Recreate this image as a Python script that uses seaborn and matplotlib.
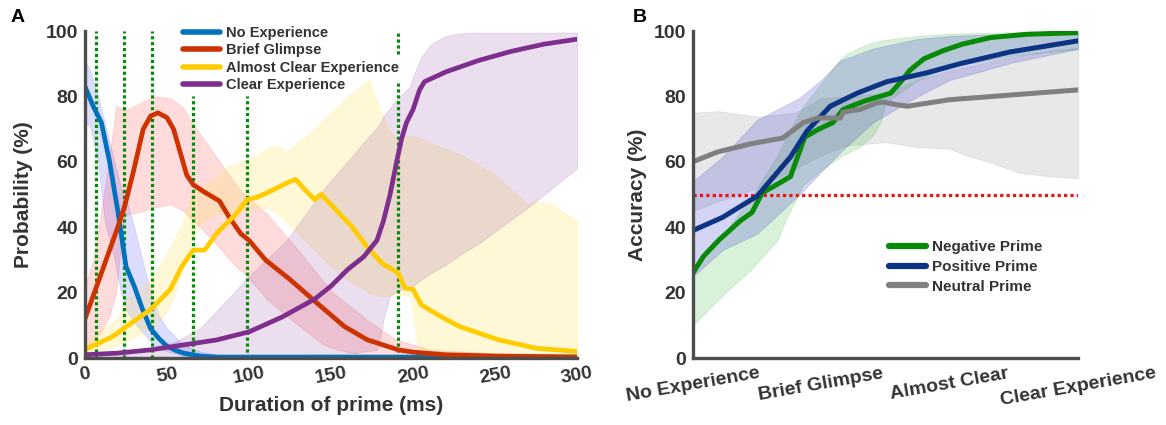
import matplotlib
matplotlib.use("Agg")
import numpy as np
import pandas as pd
import seaborn as sns
from matplotlib import pyplot as plt

# ---- panel A: probability of each experience rating vs prime duration ----
no_exp_t = [0, 5, 10, 15, 20, 25, 30, 35, 40, 45, 50, 55, 60, 70, 80, 120, 200, 300]
no_exp = [83, 77, 72, 60, 45, 28, 22, 15, 9, 6, 3.6, 2.4, 1.5, 0.6, 0.3, 0.3, 0.3, 0.3]
no_exp_band_t = [0, 3, 8, 12, 18, 22, 26, 30, 35, 40, 45, 50, 60, 70, 80, 100, 300]
no_exp_hi = [91, 88, 80, 72, 60, 52, 47, 40, 30, 20, 13, 9, 4, 2, 1, 0.5, 0.5]
no_exp_lo = [72, 71, 60, 42, 30, 20, 14, 11, 8, 5, 3, 2, 0.7, 0.2, 0, 0, 0]

glimpse_t = [0, 5, 10, 15, 20, 24.5, 29.5, 35.5, 40, 44.5, 50, 54, 58, 62, 66, 72, 82, 88,
             95, 100, 110, 125, 141, 158, 172, 191, 200, 220, 250, 300]
glimpse = [12, 19, 26, 33, 40, 47, 57, 70, 74, 75, 73.5, 70, 63, 56, 53, 51, 48, 43,
           38, 36, 30, 24, 17, 9.7, 5.6, 2.5, 1.8, 1, 0.6, 0.3]
glimpse_band_t = [0, 5, 10, 15, 19, 22, 24, 26, 32, 42, 52, 60, 64, 68, 78, 92, 97, 111,
                  130, 146, 151, 170, 172, 190, 212, 250, 300]
glimpse_hi = [22, 30, 45, 62, 77, 76.5, 76, 76, 77.5, 80, 79.5, 76.5, 73, 70, 63, 53, 50, 44,
              33, 23, 20, 12.5, 11.6, 5.5, 2.4, 1.5, 1]
glimpse_lo = [3, 5, 8, 13, 20, 35, 43, 44, 44.5, 46, 47, 45, 43, 41, 36, 28, 26, 18,
              10, 4, 3, 0.6, 0.5, 0.3, 0.2, 0, 0]

almost_t = [0, 17, 31, 40, 52, 59, 66, 73, 80, 92, 99, 104, 111, 125, 128.5, 134, 140, 144,
            151, 162.5, 172, 181, 191, 195, 200, 205, 216.5, 228, 252, 275, 300]
almost = [2.6, 6.6, 11.7, 14.8, 21, 28, 33, 33, 38, 44, 48.5, 49, 50.5, 54, 54.6, 51.5, 48.5, 50,
          46.4, 40.3, 34, 29, 26, 21.4, 21, 16.3, 12.8, 9.7, 5.6, 3, 2]
almost_band_t = [0, 20, 25, 40, 50, 55, 60, 65, 70, 80, 87, 95, 105, 112, 118, 122, 130, 140,
                 150, 160, 173, 180, 185, 190, 197, 199, 203, 210, 220, 230, 250, 270, 275,
                 285, 300]
almost_hi = [5, 12, 18, 24, 32, 37, 42, 50, 52, 55, 58.7, 60, 62, 64.5, 65, 63, 66, 70,
             75, 80, 85, 76, 70, 67, 68, 67.8, 67.5, 66, 64, 62, 56, 47, 48,
             47, 42]
almost_lo = [1, 4, 5, 9, 14, 20, 28, 36, 41, 44, 44.4, 45, 45.5, 46, 44, 42, 38, 33,
             28, 24, 20, 19, 19, 19.5, 19, 18, 2, 1.5, 1, 0.8, 0.7, 0.6, 0.6,
             0.5, 0.5]

clear_t = [0, 20, 40, 60, 80, 100, 120, 140, 150, 160, 170, 178, 182, 186, 190, 193, 196,
           200, 204, 207, 220, 240, 260, 280, 300]
clear = [1, 1.5, 2.5, 4, 5.5, 8, 12.5, 18, 22, 27, 31, 36, 42, 50, 60, 67, 72,
         76, 82, 84.5, 87.5, 91, 93.8, 96, 97.5]
clear_band_t = [0, 40, 55, 70, 87, 100, 123, 146, 165, 170, 178, 180, 182, 186, 190, 198,
                200, 205, 211, 220, 230, 240, 270, 300]
clear_hi = [1.5, 3, 5, 9, 18, 25, 36, 52, 63, 66, 70.5, 72, 74, 76.5, 79, 83,
            86, 92, 96, 98.5, 99.3, 99.5, 99.5, 99.5]
clear_lo = [0.3, 0.5, 0.6, 0.7, 0.8, 0.8, 0.9, 1, 1.5, 2, 2.5, 6, 12, 19, 20.5, 21.5,
            22, 24, 26, 28.5, 32, 35, 46, 58]

# green dotted markers: (x, from, to)
marker_lines = [(7, 0, 100), (24, 0, 100), (41, 0, 100), (66, 0, 80), (99, 0, 80),
                (191, 0, 84), (191, 93, 100)]

# ---- panel B: accuracy vs reported experience ----
categories = ["No Experience", "Brief Glimpse", "Almost Clear", "Clear Experience"]

neg_x = [0, 0.08, 0.2, 0.37, 0.46, 0.54, 0.63, 0.76, 0.87, 0.98, 1.09, 1.17, 1.33, 1.54,
         1.62, 1.69, 1.8, 1.95, 2.1, 2.32, 2.6, 3]
neg = [26, 31, 36, 42, 44.5, 50.5, 52.5, 55.5, 67.5, 70, 72, 76, 78.5, 81,
       84.5, 88, 91.5, 94, 96, 98, 99, 99.5]
neg_band_x = [0, 0.2, 0.45, 0.66, 0.72, 0.86, 1.0, 1.15, 1.2, 1.3, 1.4, 1.46, 1.5, 1.75,
              2.0, 2.5, 3]
neg_hi = [27, 36, 49, 62, 67, 77, 84, 91.5, 93, 95, 96.5, 97, 97.3, 98.5,
          99.2, 99.6, 99.8]
neg_lo = [10, 18, 27, 36, 42, 53, 57.5, 61.5, 62.7, 64.5, 68, 72, 78, 85,
          89, 92.5, 94.5]

pos_x = [0, 0.23, 0.5, 0.76, 0.89, 1.07, 1.28, 1.51, 1.82, 2.08, 2.47, 3]
pos = [39, 43, 49.5, 61.5, 69.5, 77, 81, 84.5, 87.2, 90, 93.6, 97]
pos_band_x = [0, 0.23, 0.5, 0.83, 1.0, 1.15, 1.4, 1.75, 2.0, 2.5, 3]
pos_hi = [54, 61.5, 72.8, 79.5, 85, 91, 94.6, 97.6, 98.5, 99.2, 99.5]
pos_lo = [25, 33, 38, 50, 57, 63, 72, 80, 85, 90.5, 94.5]

neu_x = [0, 0.03, 0.19, 0.45, 0.7, 0.86, 0.97, 1.15, 1.17, 1.3, 1.43, 1.48, 1.58, 1.67,
         2.0, 2.5, 3]
neu = [60, 60.5, 63, 65.5, 67.3, 72, 73.4, 73.4, 75.2, 76, 78, 78.3, 77.5, 77,
       79, 80.5, 82]
neu_band_x = [0, 0.2, 0.5, 0.8, 1.0, 1.2, 1.5, 1.75, 2.0, 2.13, 2.3, 2.55, 2.8, 3]
neu_hi = [75, 75.5, 73.8, 75, 79.5, 80, 81, 85, 88, 89, 90.5, 92.5, 94, 95]
neu_lo = [45, 48, 52, 58, 62, 65, 66, 64.5, 64, 62, 60, 56.6, 55.5, 55]

chance = 50

TXT = "#333333"
SPINE = "#4d4d4d"

sns.set_style("white")
plt.rcParams["font.family"] = ["Liberation Sans", "DejaVu Sans"]
plt.rcParams["font.weight"] = "bold"

fig = plt.figure(figsize=(11.66, 4.25), dpi=100)
ax_a = fig.add_axes([0.0729, 0.1576, 0.422, 0.7694])
ax_b = fig.add_axes([0.5943, 0.1576, 0.3302, 0.7694])


def style_axes(ax):
    for side in ["top", "right"]:
        ax.spines[side].set_visible(False)
    for side in ["left", "bottom"]:
        ax.spines[side].set_linewidth(2.4)
        ax.spines[side].set_color(SPINE)
        ax.spines[side].set_zorder(6)
    ax.tick_params(direction="in", length=6, width=2.4, color="#222222",
                   labelsize=14, labelcolor=TXT, pad=5)
    for lab in ax.get_yticklabels() + ax.get_xticklabels():
        lab.set_fontweight("bold")


# panel A
bands_a = [
    (no_exp_band_t, no_exp_lo, no_exp_hi, "#3b3bff", 0.17),
    (glimpse_band_t, glimpse_lo, glimpse_hi, "#ff2a2a", 0.17),
    (almost_band_t, almost_lo, almost_hi, "#ffe14a", 0.22),
    (clear_band_t, clear_lo, clear_hi, "#8a3d9c", 0.17),
]
for t, lo, hi, c, a in bands_a:
    ax_a.fill_between(t, lo, hi, color=c, alpha=a, linewidth=0.6)

for x, y0, y1 in marker_lines:
    ax_a.vlines(x, y0, y1, colors="#078a07", linestyles=(0, (1, 0.85)), linewidth=2.3, zorder=3)

lines_a = [
    (no_exp_t, no_exp, "#0072BD", "No Experience"),
    (glimpse_t, glimpse, "#CC3300", "Brief Glimpse"),
    (almost_t, almost, "#FFCC00", "Almost Clear Experience"),
    (clear_t, clear, "#7E2F8E", "Clear Experience"),
]
for t, y, c, name in lines_a:
    sns.lineplot(x=t, y=y, color=c, linewidth=3.4, label=name, ax=ax_a, zorder=4)

ax_a.set_xlim(0, 300)
ax_a.set_ylim(0, 100)
ax_a.set_xticks([0, 50, 100, 150, 200, 250, 300])
ax_a.set_yticks([0, 20, 40, 60, 80, 100])
style_axes(ax_a)
for lab in ax_a.get_xticklabels():
    lab.set_rotation(10)
ax_a.set_xlabel("Duration of prime (ms)", fontsize=15, fontweight="bold", color=TXT, labelpad=6)
ax_a.set_ylabel("Probability (%)", fontsize=15, fontweight="bold", color=TXT, labelpad=9)
leg = ax_a.legend(loc="upper left", bbox_to_anchor=(0.2, 1.015), frameon=False,
                  fontsize=10.5, handlelength=2.5, handletextpad=0.4, labelspacing=0.23,
                  borderpad=0, borderaxespad=0)
for txt in leg.get_texts():
    txt.set_color(TXT)
    txt.set_fontweight("bold")
for h in leg.get_lines():
    h.set_linewidth(4)

# panel B
bands_b = [
    (neu_band_x, neu_lo, neu_hi, "#9a9a9a", 0.22),
    (neg_band_x, neg_lo, neg_hi, "#30b030", 0.18),
    (pos_band_x, pos_lo, pos_hi, "#2a2ad0", 0.2),
]
for x, lo, hi, c, a in bands_b:
    ax_b.fill_between(x, lo, hi, color=c, alpha=a, linewidth=0.6)

ax_b.axhline(chance, color="#ee1111", linestyle=(0, (1, 1)), linewidth=2.3, zorder=3)

lines_b = [
    (neg_x, neg, "#078a07", "Negative Prime"),
    (pos_x, pos, "#0d3385", "Positive Prime"),
    (neu_x, neu, "#808080", "Neutral Prime"),
]
for x, y, c, name in lines_b:
    sns.lineplot(x=x, y=y, color=c, linewidth=3.6, label=name, ax=ax_b, zorder=4)

ax_b.set_xlim(0, 3)
ax_b.set_ylim(0, 100)
ax_b.set_xticks(range(len(categories)))
ax_b.set_xticklabels(categories)
ax_b.set_yticks([0, 20, 40, 60, 80, 100])
style_axes(ax_b)
for lab in ax_b.get_xticklabels():
    lab.set_rotation(10)
ax_b.set_ylabel("Accuracy (%)", fontsize=15, fontweight="bold", color=TXT, labelpad=5)
leg_b = ax_b.legend(loc="upper left", bbox_to_anchor=(0.51, 0.36), frameon=False,
                    fontsize=11, handlelength=2.4, handletextpad=0.4, labelspacing=0.37,
                    borderpad=0, borderaxespad=0)
for txt in leg_b.get_texts():
    txt.set_color(TXT)
    txt.set_fontweight("bold")
for h in leg_b.get_lines():
    h.set_linewidth(4.5)

fig.text(0.0154, 0.958, "A", fontsize=14, fontweight="bold", color="black", ha="center", va="center")
fig.text(0.549, 0.958, "B", fontsize=14, fontweight="bold", color="black", ha="center", va="center")

fig.savefig("out.png", dpi=100)
